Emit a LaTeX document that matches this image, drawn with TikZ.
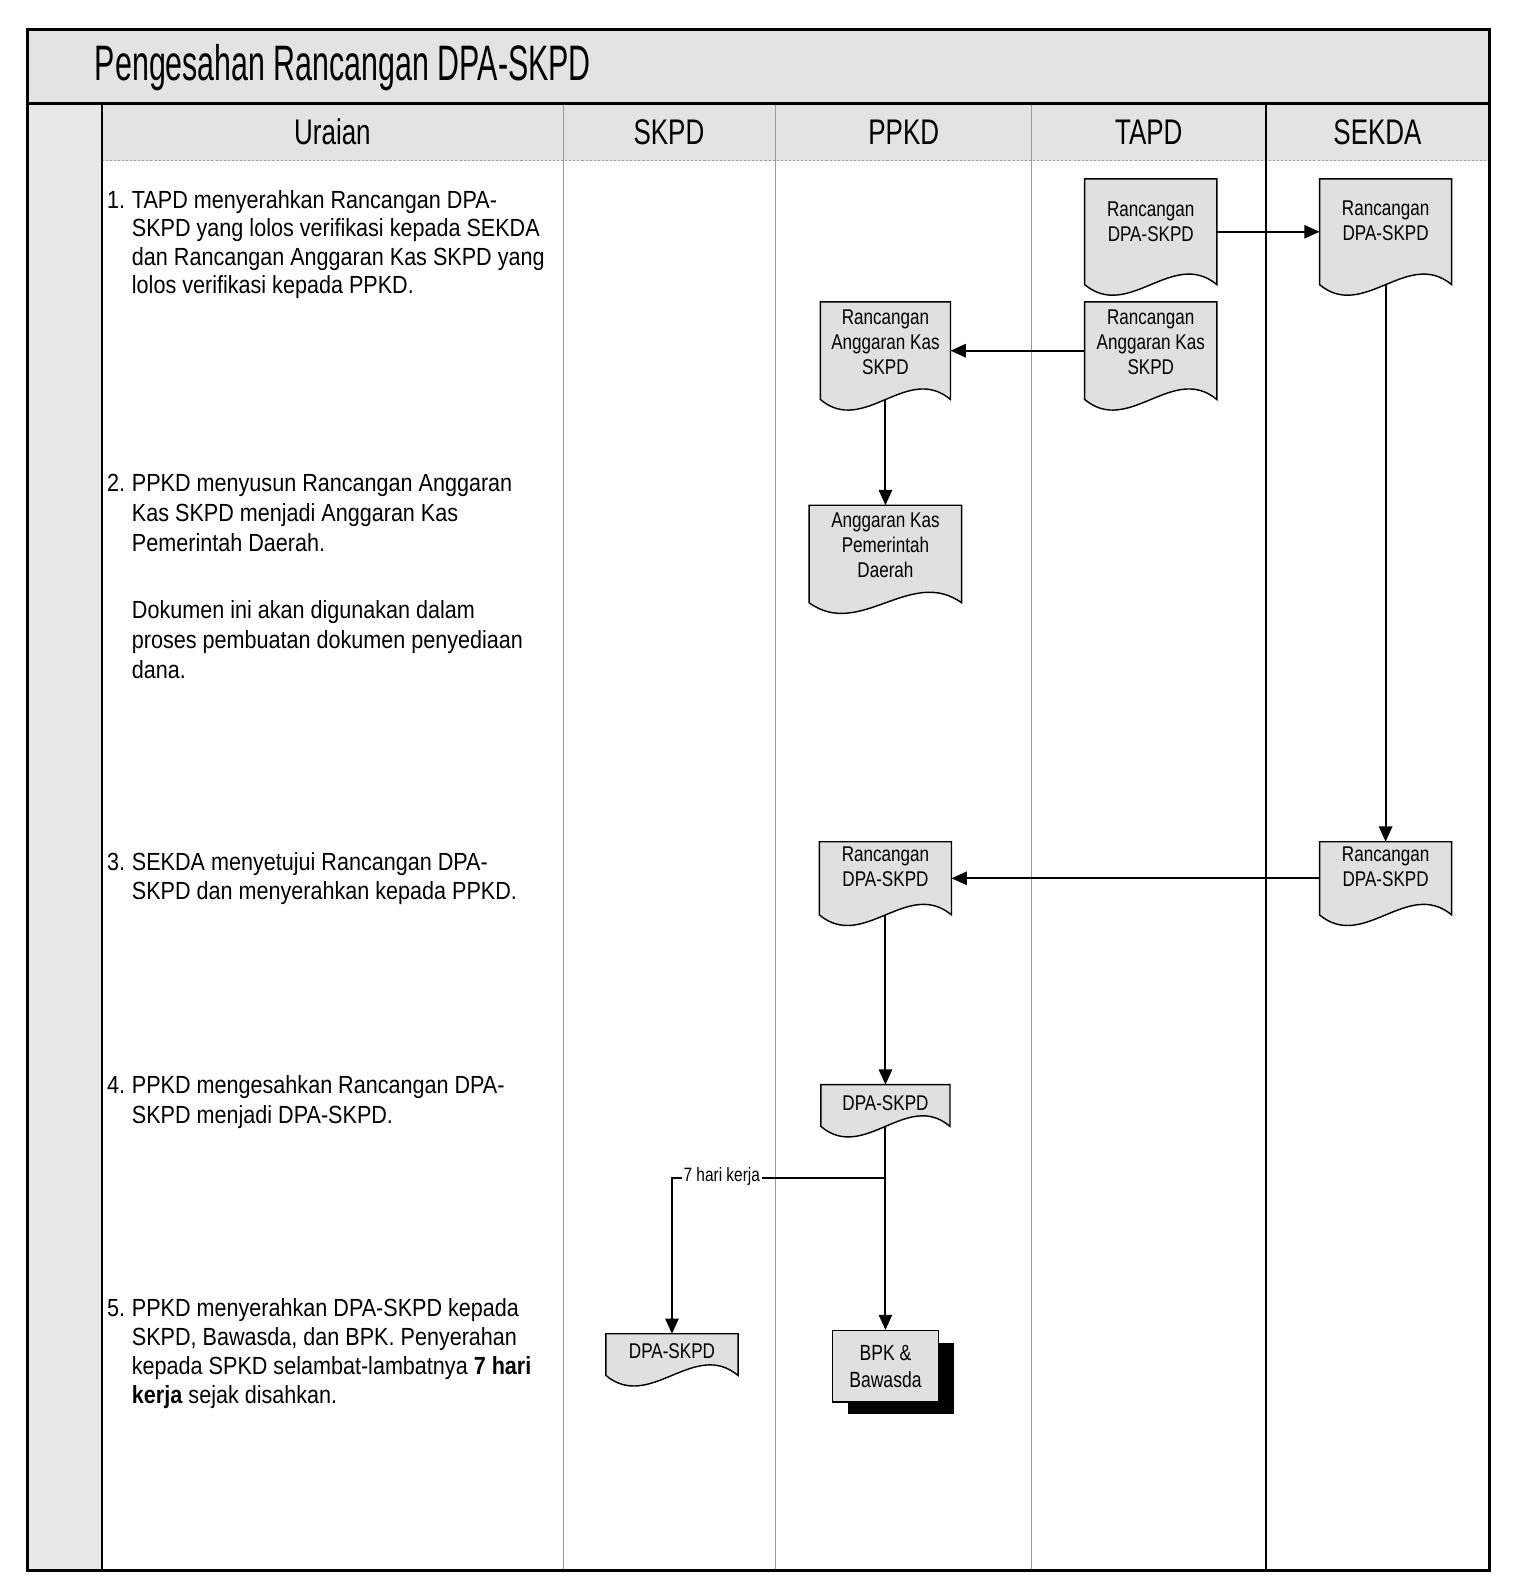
\documentclass[tikz,border=0pt]{standalone}
\usepackage{fontspec}
\setmainfont{Liberation Sans}
\newfontfamily\titlefont{Liberation Sans}[FakeStretch=0.61]
\newfontfamily\headfont{Liberation Sans}[FakeStretch=0.73]
\newfontfamily\narrowfont{Liberation Sans}[FakeStretch=0.8]
\newfontfamily\bodyfont{Liberation Sans}[FakeStretch=0.87]
\usetikzlibrary{arrows.meta,calc,shadows}

\definecolor{bandgray}{gray}{0.89}
\definecolor{margingray}{gray}{0.91}
\definecolor{docfill}{gray}{0.88}
\definecolor{lanegray}{gray}{0.6}

\newlength\numw
\setlength\numw{12.2pt}
\newcommand\num[1]{\makebox[\numw][l]{#1}}
\newcommand\ind{\hspace*{\numw}}

\tikzset{
  frameline/.style={line width=1.6pt, black},
  laneline/.style={line width=0.5pt, lanegray},
  darklane/.style={line width=0.9pt, black},
  docshape/.style={draw=black, line width=0.7pt, fill=docfill},
  docanchor/.style={inner sep=0pt, outer sep=0pt},
  doctext/.style={font=\narrowfont\fontsize{10.5}{12.3}\selectfont, align=center, inner sep=0pt},
  boxshape/.style={draw=black, line width=0.7pt, fill=docfill, inner sep=0pt,
    font=\narrowfont\fontsize{10.8}{13}\selectfont, align=center},
  flow/.style={line width=1pt, -{Triangle[length=7.5pt,width=6.5pt]}},
  lanehead/.style={font=\headfont\fontsize{17.5}{20}\selectfont, inner sep=0pt},
  titletext/.style={font=\titlefont\fontsize{24.5}{28}\selectfont, inner sep=0pt, anchor=west},
  steptext/.style={font=\bodyfont\fontsize{12.2}{14.3}\selectfont, align=left,
    anchor=north west, inner sep=0pt},
  flowlabel/.style={font=\narrowfont\fontsize{9.5}{11}\selectfont, fill=white, inner sep=1pt},
}

% document symbol: straight top and sides, wavy bottom edge
% #1 name, #2 centre x, #3 top y, #4 width, #5 height down to the wave, #6 text centre below top, #7 text
\newcommand\docnode[7]{%
  \node[docanchor, minimum width=#4*0.5pt, minimum height=#5*0.5pt] (#1) at (#2,#3+#5/2) {};
  \filldraw[docshape] (#1.north west) -- (#1.north east) -- (#1.south east)
    .. controls ($(#1.south east)+(-#4/3,-36)$) and ($(#1.south west)+(#4/3,36)$) .. (#1.south west)
    -- cycle;
  \node[doctext] (#1-text) at (#2,#3+#6) {#7};
}

\begin{document}
\begin{tikzpicture}[x=0.5pt, y=-0.5pt]
\useasboundingbox (0,0) rectangle (1492,1568);

% background bands
\fill[bandgray] (27,29) rectangle (1465,102);
\fill[bandgray] (100,102) rectangle (1465,158);
\fill[margingray] (27,102) rectangle (100,1545);
\draw[lanegray, line width=0.4pt, dash pattern=on 1pt off 1pt] (100,158) -- (1465,158);

% lane separators
\draw[laneline] (554,102) -- (554,1545);
\draw[laneline] (763,102) -- (763,1545);
\draw[laneline] (1015,102) -- (1015,1545);
\draw[darklane] (1245,102) -- (1245,1545);
\draw[line width=1.1pt] (100,102) -- (100,1545);

% outer frame and title rule
\draw[frameline] (27,102) -- (1465,102);
\draw[frameline] (27,29) rectangle (1465,1545);

% title and lane headers
\node[titletext] (title) at (93,67) {Pengesahan Rancangan DPA-SKPD};
\node[lanehead] (hUraian) at (327,130) {Uraian};
\node[lanehead] (hSKPD) at (658,130) {SKPD};
\node[lanehead] (hPPKD) at (889,130) {PPKD};
\node[lanehead] (hTAPD) at (1130,130) {TAPD};
\node[lanehead] (hSEKDA) at (1355,130) {SEKDA};

% step descriptions
\node[steptext, font=\bodyfont\fontsize{12.2}{14}\selectfont] (step1) at (105,187) {%
  \num{1.}TAPD menyerahkan Rancangan DPA-\\
  \ind SKPD yang lolos verifikasi kepada SEKDA\\
  \ind dan Rancangan Anggaran Kas SKPD yang\\
  \ind lolos verifikasi kepada PPKD.};
\node[steptext, font=\bodyfont\fontsize{12.2}{14.8}\selectfont] (step2) at (105,466) {%
  \num{2.}PPKD menyusun Rancangan Anggaran\\
  \ind Kas SKPD menjadi Anggaran Kas\\
  \ind Pemerintah Daerah.\\[18pt]
  \ind Dokumen ini akan digunakan dalam\\
  \ind proses pembuatan dokumen penyediaan\\
  \ind dana.};
\node[steptext] (step3) at (105,838) {%
  \num{3.}SEKDA menyetujui Rancangan DPA-\\
  \ind SKPD dan menyerahkan kepada PPKD.};
\node[steptext] (step4) at (105,1058) {%
  \num{4.}PPKD mengesahkan Rancangan DPA-\\
  \ind SKPD menjadi DPA-SKPD.};
\node[steptext] (step5) at (105,1277) {%
  \num{5.}PPKD menyerahkan DPA-SKPD kepada\\
  \ind SKPD, Bawasda, dan BPK. Penyerahan\\
  \ind kepada SPKD selambat-lambatnya \textbf{7 hari}\\
  \ind\textbf{kerja} sejak disahkan.};

% documents
\docnode{tapdDpa}{1132}{176}{130}{104}{42}{Rancangan\\DPA-SKPD}
\docnode{sekdaDpa}{1363}{176}{130}{104}{41}{Rancangan\\DPA-SKPD}
\docnode{tapdKas}{1132}{297}{130}{96}{40}{Rancangan\\Anggaran Kas\\SKPD}
\docnode{ppkdKas}{871}{297}{128}{96}{40}{Rancangan\\Anggaran Kas\\SKPD}
\docnode{ppkdKasPemda}{871}{497}{150}{96}{39}{Anggaran Kas\\Pemerintah\\Daerah}
\docnode{sekdaDpaOk}{1363}{828}{130}{72}{25}{Rancangan\\DPA-SKPD}
\docnode{ppkdDpa}{871}{828}{130}{72}{25}{Rancangan\\DPA-SKPD}
\docnode{ppkdFinal}{871}{1067}{127}{41}{18}{DPA-SKPD}
\docnode{skpdFinal}{661}{1312}{130}{41}{17}{DPA-SKPD}

\node[boxshape, minimum width=52pt, minimum height=35pt,
  drop shadow={shadow xshift=7.5pt, shadow yshift=-6pt, fill=black, opacity=1}]
  (bpk) at (871,1344) {BPK \&\\Bawasda};

% flows
\draw[flow] (tapdDpa.east) -- (sekdaDpa.west);
\draw[flow] (tapdKas.west) -- (ppkdKas.east);
\draw[flow] (ppkdKas.south) -- (ppkdKasPemda.north);
\draw[flow] (sekdaDpa.south) -- (sekdaDpaOk.north);
\draw[flow] (sekdaDpaOk.west) -- (ppkdDpa.east);
\draw[flow] (ppkdDpa.south) -- (ppkdFinal.north);
\draw[flow] (ppkdFinal.south) -- (bpk.north);
\coordinate (lvl) at (0,1159);
\coordinate (split) at (ppkdFinal.south |- lvl);
\draw[flow] (split) -| (skpdFinal.north);
\node[flowlabel] (dayslabel) at (710,1157) {7 hari kerja};
\end{tikzpicture}
\end{document}
